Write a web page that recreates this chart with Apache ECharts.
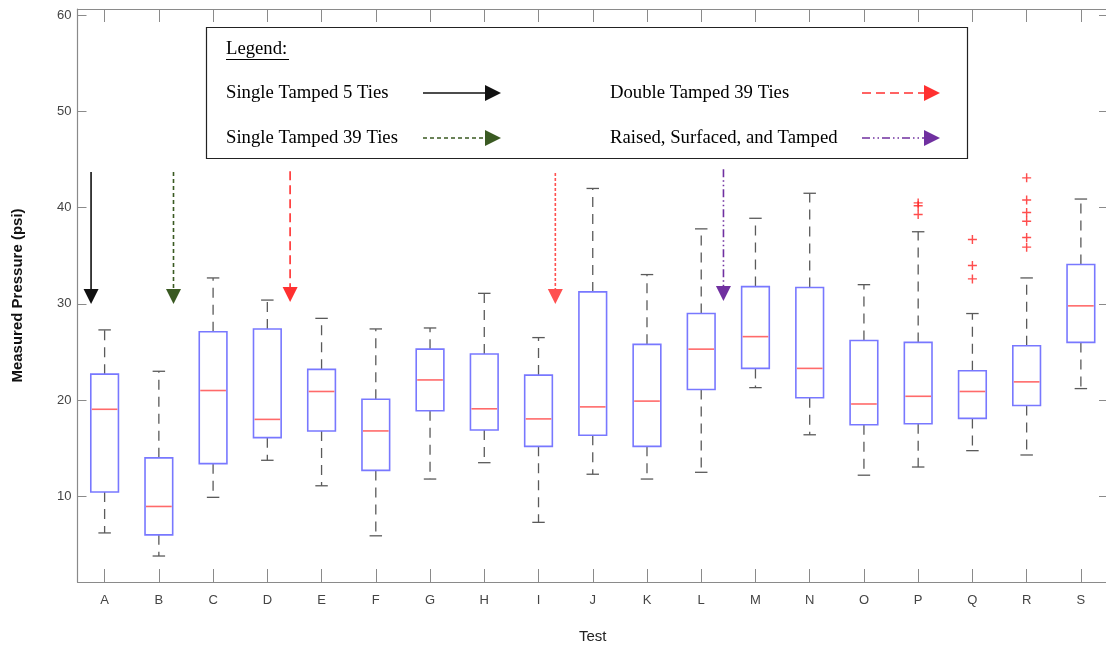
<!DOCTYPE html>
<html>
<head>
<meta charset="utf-8">
<script src="https://cdn.jsdelivr.net/npm/echarts@6/dist/echarts.min.js"></script>
<style>
html,body{margin:0;padding:0;background:#fff;}
#chart{width:1106px;height:647px;}
</style>
</head>
<body>
<div id="chart"></div>
<script>
// ---- data ----
const categories = ['A','B','C','D','E','F','G','H','I','J','K','L','M','N','O','P','Q','R','S'];
const whiskerLow  = [6.2, 3.8, 9.9, 13.75, 11.1, 5.9, 11.8, 13.5, 7.3, 12.3, 11.8, 12.5, 21.3, 16.4, 12.2, 13.05, 14.75, 14.3, 21.2];
const quartile1   = [10.45, 6.0, 13.4, 16.1, 16.8, 12.7, 18.9, 16.9, 15.2, 16.35, 15.2, 21.1, 23.3, 20.25, 17.45, 17.55, 18.1, 19.45, 26.0];
const medians     = [19.05, 8.95, 21.0, 18.0, 20.9, 16.8, 22.1, 19.1, 18.05, 19.3, 19.9, 25.3, 26.6, 23.3, 19.6, 20.4, 20.9, 21.9, 29.8];
const quartile3   = [22.7, 14.0, 27.1, 27.4, 23.2, 20.1, 25.3, 24.8, 22.6, 31.25, 25.8, 29.0, 31.8, 31.7, 26.2, 26.0, 23.05, 25.65, 34.1];
const whiskerHigh = [27.3, 23.0, 32.7, 30.4, 28.5, 27.4, 27.5, 31.1, 26.5, 42.0, 33.05, 37.8, 38.9, 41.5, 32.0, 37.5, 29.0, 32.7, 40.9];
const outlierCats   = ['P','P','P','Q','Q','Q','R','R','R','R','R','R'];
const outlierValues = [40.5, 40.2, 39.3, 36.7, 34.0, 32.6, 43.1, 40.8, 39.5, 38.6, 36.9, 35.9];
const yTicks = [10, 20, 30, 40, 50, 60];
// event arrows: position on the test axis (between tests), start value, tip value
const arrowPositions = [-0.25, 1.27, 3.42, 8.31, 11.41];
const arrowStart = [43.7, 43.7, 43.8, 43.6, 44.0];
const arrowTip = [30.0, 30.0, 30.2, 30.0, 30.3];
const arrowKinds = [0, 1, 2, 3, 4];
const legendLabels = ['Single Tamped 5 Ties', 'Single Tamped 39 Ties', 'Double Tamped 39 Ties', 'Raised, Surfaced, and Tamped'];

// ---- styles ----
const arrowStyles = [
  {color:'#111111', dash:null},
  {color:'#3a5a22', dash:[4,3]},
  {color:'#ff3030', dash:[9,5]},
  {color:'#ff5050', dash:[3,2]},
  {color:'#7030a0', dash:[8,3,1.5,3,1.5,3]}
];
const AX = '#8a8a8a';
const labelFont = "'Liberation Sans Narrow','Arial Narrow','Liberation Sans',Arial,sans-serif";
const serifFont = "18.7px 'Liberation Serif','Times New Roman',serif";

const boxData = categories.map((c, i) => [i, whiskerLow[i], quartile1[i], medians[i], quartile3[i], whiskerHigh[i]]);
const outlierData = outlierValues.map((v, i) => [outlierCats[i], v]);
const arrowData = arrowPositions.map((p, i) => [p, arrowStart[i], arrowTip[i], arrowKinds[i]]);

function renderBox(params, api) {
  const x = api.value(0);
  const pLow = api.coord([x, api.value(1)]);
  const pQ1 = api.coord([x, api.value(2)]);
  const pMed = api.coord([x, api.value(3)]);
  const pQ3 = api.coord([x, api.value(4)]);
  const pHigh = api.coord([x, api.value(5)]);
  const band = api.size([1, 0])[0];
  const bw = band * 0.51;
  const cw = band * 0.23;
  const cx = pMed[0];
  const wStyle = {stroke:'#5a5a5a', lineWidth:1.3, lineDash:[10,7]};
  const cStyle = {stroke:'#5a5a5a', lineWidth:1.3};
  return {type:'group', children:[
    {type:'line', shape:{x1:cx, y1:pQ3[1], x2:cx, y2:pHigh[1]}, style:wStyle},
    {type:'line', shape:{x1:cx, y1:pQ1[1], x2:cx, y2:pLow[1]}, style:wStyle},
    {type:'line', shape:{x1:cx-cw/2, y1:pHigh[1], x2:cx+cw/2, y2:pHigh[1]}, style:cStyle},
    {type:'line', shape:{x1:cx-cw/2, y1:pLow[1], x2:cx+cw/2, y2:pLow[1]}, style:cStyle},
    {type:'rect', shape:{x:cx-bw/2, y:pQ3[1], width:bw, height:pQ1[1]-pQ3[1]}, style:{fill:'#ffffff', stroke:'#7878ff', lineWidth:1.6}},
    {type:'line', shape:{x1:cx-bw/2+1, y1:pMed[1], x2:cx+bw/2-1, y2:pMed[1]}, style:{stroke:'#ff6a6a', lineWidth:1.6}}
  ]};
}

function renderArrow(params, api) {
  const pTop = api.coord([api.value(0), api.value(1)]);
  const pTip = api.coord([api.value(0), api.value(2)]);
  const st = arrowStyles[api.value(3)];
  const hw = 7.5, hh = 15;
  return {type:'group', children:[
    {type:'line', shape:{x1:pTop[0], y1:pTop[1], x2:pTip[0], y2:pTip[1]-hh+1}, style:{stroke:st.color, lineWidth:1.6, lineDash:st.dash}},
    {type:'polygon', shape:{points:[[pTip[0]-hw, pTip[1]-hh],[pTip[0]+hw, pTip[1]-hh],[pTip[0], pTip[1]]]}, style:{fill:st.color}}
  ]};
}

// legend graphics (layout)
const legendItems = [
  {x:226, y:93, kind:0, label:legendLabels[0], ax:423},
  {x:226, y:138, kind:1, label:legendLabels[1], ax:423},
  {x:610, y:93, kind:2, label:legendLabels[2], ax:862},
  {x:610, y:138, kind:4, label:legendLabels[3], ax:862}
];
const graphics = [
  {type:'rect', shape:{x:206.5, y:27.5, width:761, height:131}, style:{fill:'#ffffff', stroke:'#222222', lineWidth:1.2}, z:50},
  {type:'text', x:226, y:49, style:{text:'Legend:', font:serifFont, fill:'#000', verticalAlign:'middle'}, z:51},
  {type:'line', shape:{x1:226, y1:59.5, x2:289, y2:59.5}, style:{stroke:'#000', lineWidth:1}, z:51}
];
legendItems.forEach(it => {
  const st = arrowStyles[it.kind];
  graphics.push({type:'text', x:it.x, y:it.y, style:{text:it.label, font:serifFont, fill:'#000', verticalAlign:'middle'}, z:51});
  graphics.push({type:'line', shape:{x1:it.ax, y1:it.y, x2:it.ax+63, y2:it.y}, style:{stroke:st.color, lineWidth:1.6, lineDash:st.dash}, z:51});
  graphics.push({type:'polygon', shape:{points:[[it.ax+62, it.y-8],[it.ax+62, it.y+8],[it.ax+78, it.y]]}, style:{fill:st.color}, z:51});
});

const chart = echarts.init(document.getElementById('chart'), null, {renderer:'canvas'});
chart.setOption({
  backgroundColor:'#ffffff',
  animation:false,
  grid:{left:77.5, top:9, width:1030.5, height:573, show:false, containLabel:false, outerBoundsMode:'none'},
  xAxis:[
    {type:'category', data:categories, position:'bottom', boundaryGap:true,
     axisLine:{show:true, onZero:false, lineStyle:{color:AX, width:1.2}},
     axisTick:{show:true, inside:true, length:13, alignWithLabel:true, lineStyle:{color:AX}},
     axisLabel:{color:'#444', fontSize:13, margin:12, fontFamily:labelFont},
     splitLine:{show:false},
     name:'Test', nameLocation:'middle', nameGap:47,
     nameTextStyle:{color:'#222', fontSize:15, fontFamily:labelFont}},
    {type:'category', data:categories, position:'top', boundaryGap:true,
     axisLine:{show:true, onZero:false, lineStyle:{color:AX, width:1.2}},
     axisTick:{show:true, inside:true, length:13, alignWithLabel:true, lineStyle:{color:AX}},
     axisLabel:{show:false}, splitLine:{show:false}},
    {type:'value', min:-0.5, max:18.5, show:false, position:'bottom', axisLine:{onZero:false}}
  ],
  yAxis:[
    {type:'value', min:1.1, max:60.65, position:'left',
     axisLine:{show:true, onZero:false, lineStyle:{color:AX, width:1.2}},
     axisTick:{show:true, inside:true, length:9, customValues:yTicks, lineStyle:{color:AX}},
     axisLabel:{color:'#444', fontSize:13, margin:6, customValues:yTicks, fontFamily:labelFont},
     splitLine:{show:false},
     name:'Measured Pressure (psi)', nameLocation:'middle', nameGap:52,
     nameTextStyle:{color:'#111', fontSize:15, fontWeight:'bold', fontFamily:"'Liberation Sans',Arial,sans-serif"}},
    {type:'value', min:1.1, max:60.65, position:'right',
     axisLine:{show:true, onZero:false, lineStyle:{color:AX, width:1.2}},
     axisTick:{show:true, inside:true, length:9, customValues:yTicks, lineStyle:{color:AX}},
     axisLabel:{show:false}, splitLine:{show:false}}
  ],
  series:[
    {type:'custom', name:'boxes', xAxisIndex:0, yAxisIndex:0, data:boxData,
     encode:{x:0, y:[1,2,3,4,5]}, renderItem:renderBox, z:5},
    {type:'scatter', name:'outliers', xAxisIndex:0, yAxisIndex:0, data:outlierData,
     symbol:'path://M4.2,0H5.8V4.2H10V5.8H5.8V10H4.2V5.8H0V4.2H4.2Z', symbolSize:9,
     itemStyle:{color:'#ff2020'}, z:6},
    {type:'custom', name:'arrows', xAxisIndex:2, yAxisIndex:0, data:arrowData,
     encode:{x:0, y:[1,2]}, renderItem:renderArrow, z:7}
  ],
  graphic:graphics
});
</script>
</body>
</html>
